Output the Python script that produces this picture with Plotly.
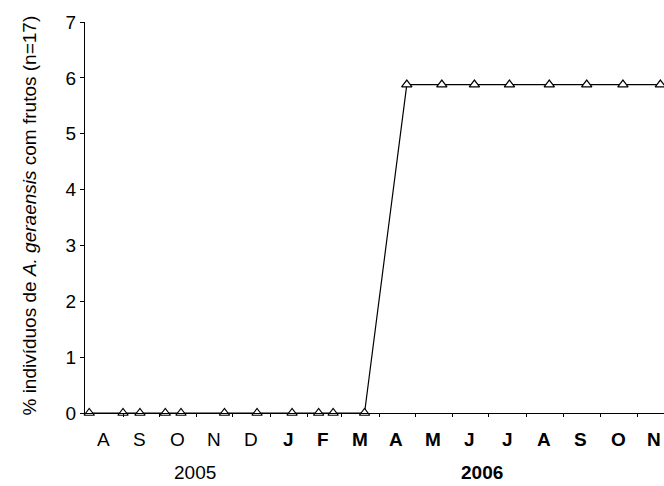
import plotly.graph_objects as go

dates = ["2005-08-04", "2005-09-01", "2005-09-15", "2005-10-06", "2005-10-19",
         "2005-11-24", "2005-12-21", "2006-01-19", "2006-02-10", "2006-02-22",
         "2006-03-20", "2006-04-24", "2006-05-23", "2006-06-19", "2006-07-18",
         "2006-08-20", "2006-09-20", "2006-10-20", "2006-11-20"]
values = [0, 0, 0, 0, 0, 0, 0, 0, 0, 0, 0,
          5.88, 5.88, 5.88, 5.88, 5.88, 5.88, 5.88, 5.88]

month_mid = ["2005-08-16", "2005-09-15", "2005-10-16", "2005-11-15", "2005-12-16",
             "2006-01-16", "2006-02-14", "2006-03-16", "2006-04-15", "2006-05-16",
             "2006-06-15", "2006-07-16", "2006-08-16", "2006-09-15", "2006-10-16",
             "2006-11-15"]
month_labels = ["A", "S", "O", "N", "D", "<b>J</b>", "<b>F</b>", "<b>M</b>", "<b>A</b>",
                "<b>M</b>", "<b>J</b>", "<b>J</b>", "<b>A</b>", "<b>S</b>", "<b>O</b>", "<b>N</b>"]
month_starts = ["2005-09-01", "2005-10-01", "2005-11-01", "2005-12-01", "2006-01-01",
                "2006-02-01", "2006-03-01", "2006-04-01", "2006-05-01", "2006-06-01",
                "2006-07-01", "2006-08-01", "2006-09-01", "2006-10-01", "2006-11-01"]
year_pos = ["2005-10-31", "2006-06-25"]
year_labels = ["2005", "<b>2006</b>"]

FONT = "Liberation Sans, Arial, sans-serif"
FS = 19

fig = go.Figure()
fig.add_trace(go.Scatter(
    x=dates, y=values, mode="lines+markers",
    line=dict(color="black", width=1.2),
    marker=dict(symbol="triangle-up", size=9, color="white",
                line=dict(color="black", width=1.2)),
    cliponaxis=False, showlegend=False))

annotations = []
for d, t in zip(month_mid, month_labels):
    annotations.append(dict(x=d, y=-0.069, xref="x", yref="paper", text=t,
                            showarrow=False, xanchor="center", yanchor="middle",
                            font=dict(family=FONT, size=FS, color="black")))
for d, t in zip(year_pos, year_labels):
    annotations.append(dict(x=d, y=-0.152, xref="x", yref="paper", text=t,
                            showarrow=False, xanchor="center", yanchor="middle",
                            font=dict(family=FONT, size=FS, color="black")))
annotations.append(dict(x=-0.095, y=0.505, xref="paper", yref="paper",
                        text="% indivíduos de <i>A. geraensis</i> com frutos (n=17)",
                        textangle=-90, showarrow=False, xanchor="center", yanchor="middle",
                        font=dict(family=FONT, size=FS, color="black")))

fig.update_layout(
    width=664, height=486,
    margin=dict(l=85, r=0, t=22, b=73),
    paper_bgcolor="white", plot_bgcolor="white",
    annotations=annotations,
    xaxis=dict(type="date", range=["2005-07-31 12:00", "2006-11-23"],
               tickvals=month_starts, ticktext=[""] * len(month_starts),
               ticks="outside", ticklen=3, tickcolor="black", tickwidth=1,
               showline=True, linecolor="black", linewidth=1.2,
               showgrid=False, zeroline=False),
    yaxis=dict(range=[0, 7], dtick=1, tick0=0,
               ticks="outside", ticklen=4, tickcolor="black", tickwidth=1,
               showline=True, linecolor="black", linewidth=1.2,
               showgrid=False, zeroline=False,
               tickfont=dict(family=FONT, size=FS, color="black")),
)

fig.write_html("out.html")
